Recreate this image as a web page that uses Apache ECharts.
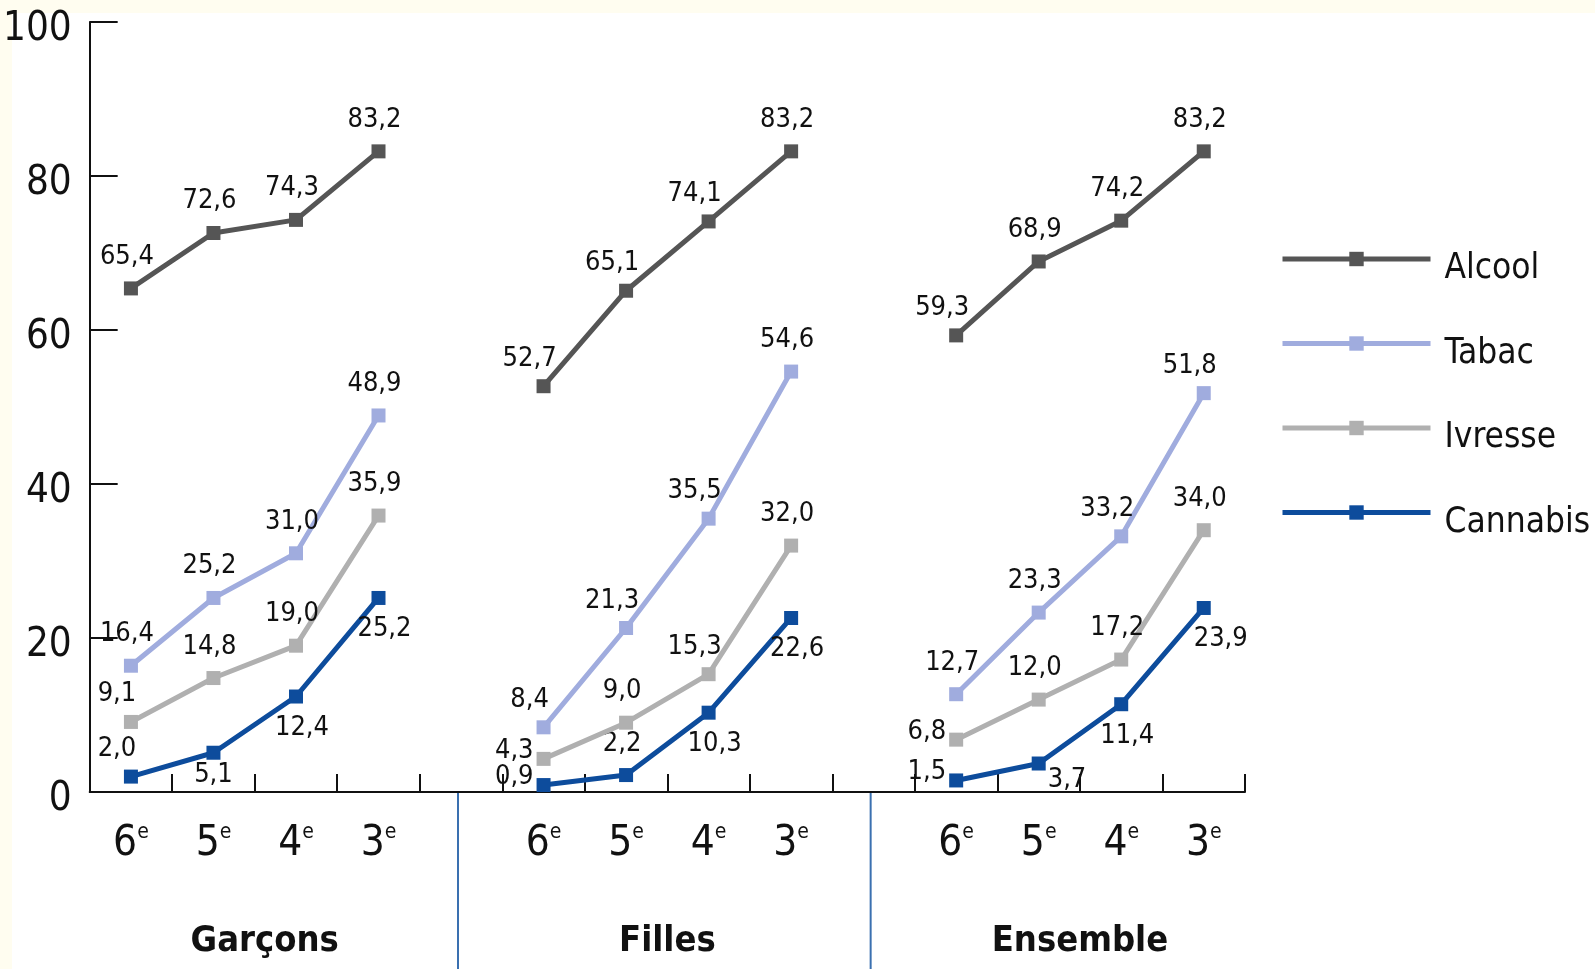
<!DOCTYPE html>
<html>
<head>
<meta charset="utf-8">
<script src="https://cdn.jsdelivr.net/npm/echarts@6/dist/echarts.min.js"></script>
<style>
html,body{margin:0;padding:0;background:#ffffff;}
#chart{width:1595px;height:969px;}
</style>
</head>
<body>
<div id="chart"></div>
<script>
// ---- Data ----
const categories = ['6e','5e','4e','3e','','6e','5e','4e','3e','','6e','5e','4e','3e'];
const groups = ['Garçons','Filles','Ensemble'];
const seriesNames = ['Alcool','Tabac','Ivresse','Cannabis'];
const alcool   = [65.4, 72.6, 74.3, 83.2, null, 52.7, 65.1, 74.1, 83.2, null, 59.3, 68.9, 74.2, 83.2];
const tabac    = [16.4, 25.2, 31.0, 48.9, null,  8.4, 21.3, 35.5, 54.6, null, 12.7, 23.3, 33.2, 51.8];
const ivresse  = [ 9.1, 14.8, 19.0, 35.9, null,  4.3,  9.0, 15.3, 32.0, null,  6.8, 12.0, 17.2, 34.0];
const cannabis = [ 2.0,  5.1, 12.4, 25.2, null,  0.9,  2.2, 10.3, 22.6, null,  1.5,  3.7, 11.4, 23.9];
const yTicks = [0, 20, 40, 60, 80, 100];

// ---- Label placement codes (style, not data) ----
const alcoolPlace   = ['t','t','t','t',null,'tl','tl','tl','t',null,'tl','t','t','t'];
const tabacPlace    = ['t','t','t','t',null,'tl','tl','tl','t',null,'t','t','tl','tl'];
const ivressePlace  = ['tl','t','t','t',null,'l','t','tl','t',null,'l','t','t','t'];
const cannabisPlace = ['tl','bn','b','b',null,'l','t','b','b',null,'l','r','b','br'];

const FONT = "'DejaVu Sans Condensed','Noto Sans',sans-serif";
const PLACES = {
  t:  {position:'top', distance:11, offset:[-4,0]},
  tl: {position:'top', distance:7, offset:[-14,0]},
  l:  {position:'left', distance:3, offset:[0,-8]},
  b:  {position:'bottom', distance:11, offset:[6,0]},
  bn: {position:'bottom', distance:2, offset:[0,0]},
  br: {position:'bottom', distance:11, offset:[17,0]},
  r:  {position:'right', distance:2, offset:[0,16]}
};
const colors = ['#555555','#a0acde','#b0b0b0','#0d4c9c'];
const values = [alcool, tabac, ivresse, cannabis];
const places = [alcoolPlace, tabacPlace, ivressePlace, cannabisPlace];

function fmt(v){ return v.toFixed(1).replace('.', ','); }

const series = seriesNames.map((name, si) => ({
  name: name,
  type: 'line',
  symbol: 'rect',
  symbolSize: 14,
  connectNulls: false,
  z: 10 - si,
  lineStyle: {color: colors[si], width: 5},
  itemStyle: {color: colors[si]},
  data: values[si].map((v, i) => {
    if (v === null) return null;
    const p = PLACES[places[si][i]] || PLACES.t;
    return {
      value: v,
      label: {show: true, position: p.position, distance: p.distance, offset: p.offset}
    };
  }),
  label: {
    show: true,
    formatter: (p) => fmt(p.value),
    fontFamily: FONT, fontSize: 27, color: '#111'
  },
  emphasis: {disabled: true}
}));

const chart = echarts.init(document.getElementById('chart'), null, {renderer: 'canvas'});
chart.setOption({
  animation: false,
  backgroundColor: '#ffffff',
  grid: {left: 88, right: 350, top: 22, bottom: 177, containLabel: false},
  legend: {
    orient: 'vertical',
    left: 1275, top: 227,
    itemWidth: 148, itemHeight: 18, itemGap: 30,
    data: seriesNames,
    lineStyle: {width: 5},
    formatter: (name) => '{sp|\u00a0}\n{a|' + name + '}',
    textStyle: {
      fontFamily: FONT, color: '#111',
      rich: {
        sp: {fontFamily: FONT, fontSize: 12, lineHeight: 20},
        a: {fontFamily: FONT, fontSize: 35, color: '#111', lineHeight: 42, padding: [0, 0, 0, 9]}
      }
    },
    selectedMode: false
  },
  xAxis: {
    type: 'category',
    data: categories,
    boundaryGap: true,
    axisLine: {lineStyle: {color: '#111', width: 2}},
    axisTick: {show: true, inside: true, length: 18, interval: 0, lineStyle: {color: '#111', width: 2}},
    axisLabel: {
      interval: 0, margin: 30,
      formatter: (v) => v ? '{n|' + v.slice(0, -1) + '}{s|' + v.slice(-1) + '}' : '',
      rich: {
        n: {fontFamily: FONT, fontSize: 42, color: '#111', lineHeight: 44},
        s: {fontFamily: FONT, fontSize: 21, color: '#111', verticalAlign: 'top', lineHeight: 22}
      }
    }
  },
  yAxis: {
    type: 'value', min: 0, max: 100, interval: 20,
    axisLine: {show: true, lineStyle: {color: '#111', width: 2}},
    axisTick: {show: true, inside: true, length: 28, lineStyle: {color: '#111', width: 2}},
    splitLine: {show: false},
    axisLabel: {
      margin: 18, fontFamily: FONT, fontSize: 40, color: '#111',
      verticalAlign: 'top', lineHeight: 16,
      formatter: (v) => yTicks.includes(v) ? String(v) : ''
    }
  },
  series: series
});

// separators and group labels computed from the axis scale
const gfx = [
  {type: 'rect', shape: {x: 0, y: 0, width: 1595, height: 13}, style: {fill: '#fffdf0'}, z: -1, silent: true},
  {type: 'rect', shape: {x: 0, y: 0, width: 12, height: 969}, style: {fill: '#fffdf0'}, z: -1, silent: true}
];
const yAxisPix = chart.convertToPixel({yAxisIndex: 0}, 0);
categories.forEach((c, i) => {
  if (c === '') {
    const x = chart.convertToPixel({xAxisIndex: 0}, i);
    gfx.push({type: 'line', shape: {x1: x - 3, y1: yAxisPix, x2: x - 3, y2: 969}, style: {stroke: '#3a70b0', lineWidth: 2}, silent: true});
  }
});
groups.forEach((g, gi) => {
  const i0 = gi * 5;
  const x = (chart.convertToPixel({xAxisIndex: 0}, i0 + 1) + chart.convertToPixel({xAxisIndex: 0}, i0 + 2)) / 2;
  gfx.push({type: 'text', x: x + (gi === 0 ? 10 : 0), y: yAxisPix + 150, style: {text: g, fontFamily: FONT, fontSize: 36, fontWeight: 'bold', fill: '#111', align: 'center', verticalAlign: 'middle'}, silent: true});
});
chart.setOption({graphic: gfx});
</script>
</body>
</html>
